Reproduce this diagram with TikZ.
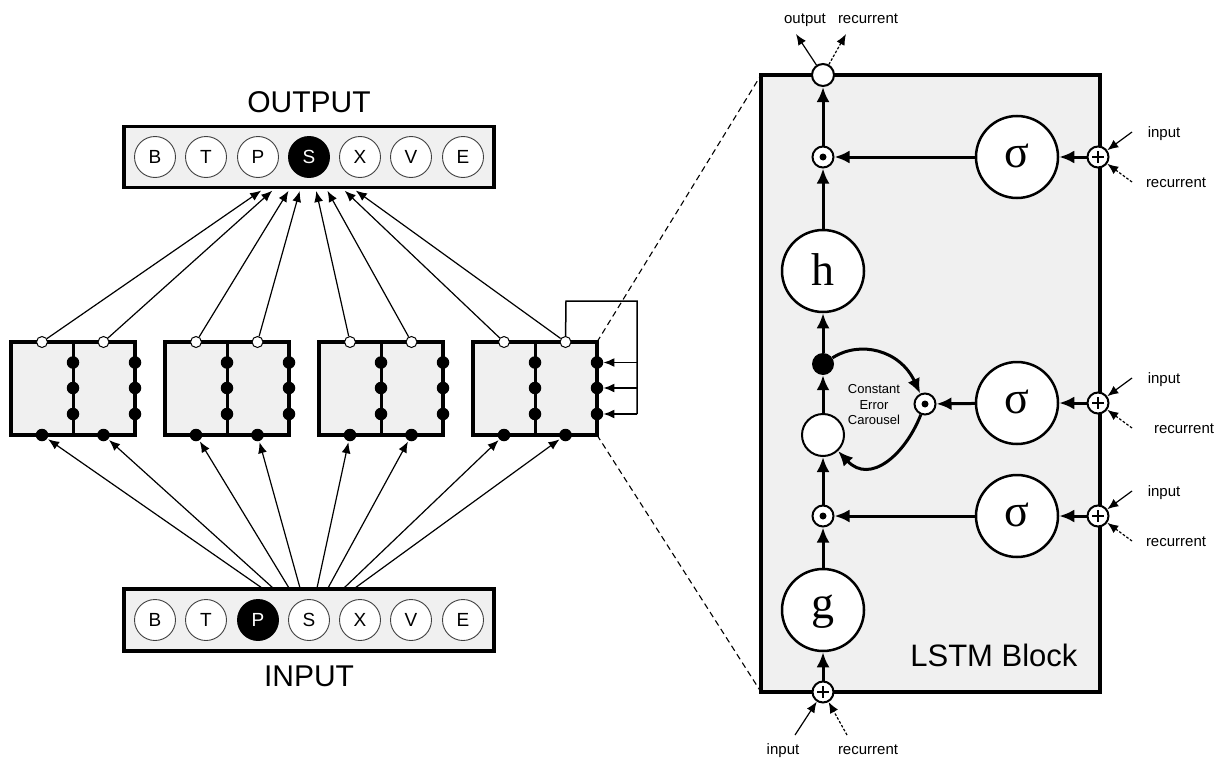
\documentclass[tikz,border=0pt]{standalone}
\usepackage{fontspec}
\setmainfont{Liberation Sans}
\newfontfamily\serifbig{Liberation Serif}
\usetikzlibrary{arrows.meta,calc}
\definecolor{panel}{HTML}{F0F0F0}
\tikzset{
  x=1pt,y=-1pt,
  panelbox/.style={draw=black,fill=panel,line width=3.05pt,line join=miter,outer sep=0pt,inner sep=0pt},
  letter/.style={circle,draw=black!75,fill=white,line width=.9pt,minimum size=41pt,inner sep=0pt,font=\fontsize{19}{21}\selectfont},
  letteron/.style={letter,fill=black,text=white,draw=black},
  whitedot/.style={circle,draw=black,fill=white,line width=1pt,minimum size=11pt,inner sep=0pt},
  blackdot/.style={circle,fill=black,minimum size=12.5pt,inner sep=0pt},
  inner/.style={line width=3pt},
  thin arrow/.style={line width=1.2pt,-{Latex[length=11pt,width=9pt]},shorten >=1pt},
  fb arrow/.style={line width=1.5pt,-{Latex[length=11pt,width=9pt]}},
  big/.style={circle,draw=black,fill=white,line width=2.5pt,minimum size=82pt,inner sep=0pt,font=\fontsize{46}{48}\selectfont\serifbig},
  gate/.style={circle,draw=black,fill=white,line width=2pt,minimum size=21pt,inner sep=0pt},
  thick arrow/.style={line width=3pt,-{Latex[length=15pt,width=13pt]}},
  ext/.style={line width=1.2pt,-{Latex[length=11pt,width=9pt]}},
  extd/.style={ext,dash pattern=on 2.6pt off 1.8pt},
  small/.style={font=\fontsize{15}{17}\selectfont,inner sep=0pt,text height=10pt,text depth=3pt},
}
\newcommand{\lstm}[2]{%
  \begin{scope}[shift={(#2,0)}]
    \node[panelbox,minimum width=124pt,minimum height=93pt,anchor=north west] (box#1) at (0,342) {};
    \draw[inner] (62,342) -- (62,435);
    \foreach \yy [count=\j] in {362.5,388,414}{
      \node[blackdot] (a#1\j) at (62,\yy) {};
      \node[blackdot] (b#1\j) at (124,\yy) {};
    }
    \node[whitedot] (ta#1) at (31,342) {};
    \node[whitedot] (tb#1) at (92.5,342) {};
    \node[blackdot] (ba#1) at (31,435) {};
    \node[blackdot] (bb#1) at (92.5,435) {};
  \end{scope}}
\newcommand{\bigtext}[2]{\smash{\raisebox{#1}{#2}}}
\begin{document}
\begin{tikzpicture}
\useasboundingbox (0,0) rectangle (1223,760);
% output / input
\node[panelbox,minimum width=370pt,minimum height=61pt] (outbox) at (309,157) {};
\node[panelbox,minimum width=370pt,minimum height=62pt] (inbox) at (309,620) {};
\foreach \l/\px/\st in {B/155/letter,T/206/letter,P/258/letter,S/309/letteron,X/360/letter,V/411/letter,E/463/letter}{
  \node[\st] (o\l) at (\px,157) {\l};
}
\foreach \l/\px/\st in {B/155/letter,T/206/letter,P/258/letteron,S/309/letter,X/360/letter,V/411/letter,E/463/letter}{
  \node[\st] (i\l) at (\px,620) {\l};
}
\node[font=\fontsize{30}{32}\selectfont] (outlabel) at (309,102) {OUTPUT};
\node[font=\fontsize{30}{32}\selectfont] (inlabel) at (309,676) {INPUT};
% small blocks
\lstm{1}{11}
\lstm{2}{165}
\lstm{3}{319}
\lstm{4}{473}
% output arrows
\foreach \n/\s/\tx in {1/ta/262,1/tb/273,2/ta/289,2/tb/300,3/ta/316,3/tb/327,4/ta/344,4/tb/355}{
  \coordinate (t\s\n) at (\tx,190);
  \draw[thin arrow] (\s\n) -- (t\s\n);
}
% input arrows
\foreach \n/\s/\tx in {1/ba/262,1/bb/273,2/ba/289,2/bb/300,3/ba/317,3/bb/328,4/ba/344,4/bb/355}{
  \coordinate (f\s\n) at (\tx,588);
  \draw[thin arrow] (f\s\n) -- (\s\n);
}
% feedback on block 4
\coordinate (fbt) at (566,301);
\coordinate (fbr) at (637,301);
\coordinate (fbe) at (637,414);
\draw[line width=1.5pt,line join=miter] (tb4) -- (fbt) -- (fbr) -- (fbe);
\foreach \j/\yy in {1/362.5,2/388,3/414}{
  \coordinate (fb\j) at (637,\yy);
  \draw[fb arrow] (fb\j) -- (b4\j);
}
% big block
\node[panelbox,minimum width=339pt,minimum height=617pt,anchor=north west] (lstm) at (761,75) {};
\node[font=\fontsize{31}{33}\selectfont,anchor=east] (lstmlabel) at (1081,655) {LSTM Block};
\draw[dash pattern=on 6pt off 4pt,line width=1.1pt] (box4.north east) -- (lstm.north west);
\draw[dash pattern=on 6pt off 4pt,line width=1.1pt] (box4.south east) -- (lstm.south west);
% nodes
\node[gate,minimum size=22pt] (top) at (823,75) {};
\node[gate] (d1) at (823,157) {};
\fill (d1) circle (3.5pt);
\node[big] (h) at (823,271) {\bigtext{-14pt}{h}};
\node[blackdot,minimum size=22pt] (bd) at (823,364) {};
\node[gate,minimum size=42pt] (cell) at (823,435) {};
\node[gate] (d3) at (823,516) {};
\fill (d3) circle (3.5pt);
\node[big] (g) at (823,610) {\bigtext{-8pt}{g}};
\node[gate] (pb) at (823,692) {};
\node[gate] (d2) at (925,404) {};
\fill (d2) circle (3.5pt);
\node[big] (s1) at (1017,157) {\bigtext{-10pt}{σ}};
\node[big] (s2) at (1017,403) {\bigtext{-10pt}{σ}};
\node[big] (s3) at (1017,516) {\bigtext{-10pt}{σ}};
\node[gate] (p1) at (1098,157) {};
\node[gate] (p2) at (1098,403) {};
\node[gate] (p3) at (1098,516) {};
\foreach \p in {p1,p2,p3,pb}{
  \draw[line width=2.8pt] ($(\p)+(-6,0)$) -- ($(\p)+(6,0)$);
  \draw[line width=2.8pt] ($(\p)+(0,-6)$) -- ($(\p)+(0,6)$);
}
% thick connectors
\draw[thick arrow] (pb) -- (g);
\draw[thick arrow] (g) -- (d3);
\draw[thick arrow] (d3) -- (cell);
\draw[thick arrow] (cell) -- (bd);
\draw[thick arrow] (bd) -- (h);
\draw[thick arrow] (h) -- (d1);
\draw[thick arrow] (d1) -- (top);
\draw[thick arrow] (s1) -- (d1);
\draw[thick arrow] (s2) -- (d2);
\draw[thick arrow] (s3) -- (d3);
\draw[thick arrow] (p1) -- (s1);
\draw[thick arrow] (p2) -- (s2);
\draw[thick arrow] (p3) -- (s3);
% carousel
\draw[thick arrow] (bd) .. controls (860,340) and (900,350) .. (d2);
\draw[thick arrow] (d2) .. controls (905,455) and (870,485) .. (cell);
\node[align=center,font=\fontsize{13}{15.5}\selectfont] (cec) at (874,405) {Constant\\Error\\Carousel};
% external labels
\node[small] (oo) at (805,20.5) {output};
\node[small] (or) at (868,20.5) {recurrent};
\coordinate (oa) at (796,34);
\coordinate (ob) at (846,34);
\draw[ext] (top) -- (oa);
\draw[extd] (top) -- (ob);
\foreach \p/\yy/\ix/\rx in {p1/157/1164/1176,p2/403/1164/1184,p3/516/1164/1176}{
  \node[small] (in\p) at (\ix,\yy-23.5) {input};
  \node[small] (re\p) at (\rx,\yy+26.5) {recurrent};
}
\coordinate (ca1) at (1132,132);\coordinate (cb1) at (1132,182);
\coordinate (ca2) at (1132,378);\coordinate (cb2) at (1132,428);
\coordinate (ca3) at (1132,491);\coordinate (cb3) at (1132,541);
\draw[ext] (ca1) -- (p1);\draw[extd] (cb1) -- (p1);
\draw[ext] (ca2) -- (p2);\draw[extd] (cb2) -- (p2);
\draw[ext] (ca3) -- (p3);\draw[extd] (cb3) -- (p3);
\node[small] (ib) at (783,750.5) {input};
\node[small] (rb) at (868,750.5) {recurrent};
\coordinate (cib) at (795,735);\coordinate (crb) at (847,735);
\draw[ext] (cib) -- (pb);
\draw[extd] (crb) -- (pb);
\end{tikzpicture}
\end{document}
